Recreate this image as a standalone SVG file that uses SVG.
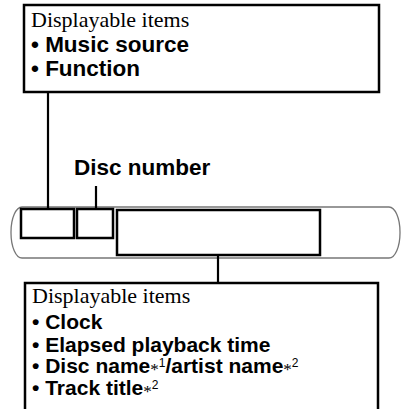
<svg xmlns="http://www.w3.org/2000/svg" width="401" height="409" viewBox="0 0 401 409">
<style>
.box{fill:none;stroke:#000;stroke-width:2.5}
.ln{stroke:#000;stroke-width:2.2;fill:none}
.hd{font-family:"Liberation Serif","Times New Roman",serif;font-size:22px;fill:#000}
.it{font-family:"Liberation Sans",Arial,sans-serif;font-weight:bold;font-size:22.5px;fill:#000}
.sm{font-size:21px}
.ast{font-family:"Liberation Serif","Times New Roman",serif;font-weight:normal;font-size:17px}
.sup{font-weight:normal;font-size:12px}
</style>
<rect width="401" height="409" fill="#fff"/>
<g id="top-box">
<rect class="box" x="24" y="5" width="355" height="87"/>
<text class="hd" x="31" y="27">Displayable items</text>
<text class="it" x="31" y="52">• Music source</text>
<text class="it" x="31" y="76">• Function</text>
</g>
<g id="display">
<rect x="11" y="207" width="389" height="51" rx="11" ry="25" fill="none" stroke="#777" stroke-width="1.3"/>
<rect id="source-area" class="box" x="21" y="209" width="53" height="29"/>
<rect id="disc-area" class="box" x="77" y="209" width="36" height="29"/>
<rect id="text-area" class="box" x="117" y="210" width="203" height="45"/>
</g>
<g id="disc-label">
<text class="it" x="74" y="175" font-size="18">Disc number</text>
</g>
<g id="bottom-box">
<path class="box" d="M25 409V283H378V409"/>
<text class="hd" x="32" y="303">Displayable items</text>
<text class="it sm" x="32" y="329">• Clock</text>
<text class="it sm" x="32" y="352">• Elapsed playback time</text>
<text class="it sm" x="32" y="373">• Disc name<tspan class="ast" dy="2">*</tspan><tspan class="sup" dy="-8">1</tspan><tspan dy="6">/artist name</tspan><tspan class="ast" dy="2">*</tspan><tspan class="sup" dy="-8">2</tspan></text>
<text class="it sm" x="32" y="395">• Track title<tspan class="ast" dy="2">*</tspan><tspan class="sup" dy="-8">2</tspan></text>
</g>
<g id="connectors">
<line class="ln" x1="48" y1="92" x2="48" y2="209"/>
<line class="ln" x1="96" y1="186" x2="96" y2="209"/>
<line class="ln" x1="218" y1="255" x2="218" y2="283"/>
</g>
</svg>
